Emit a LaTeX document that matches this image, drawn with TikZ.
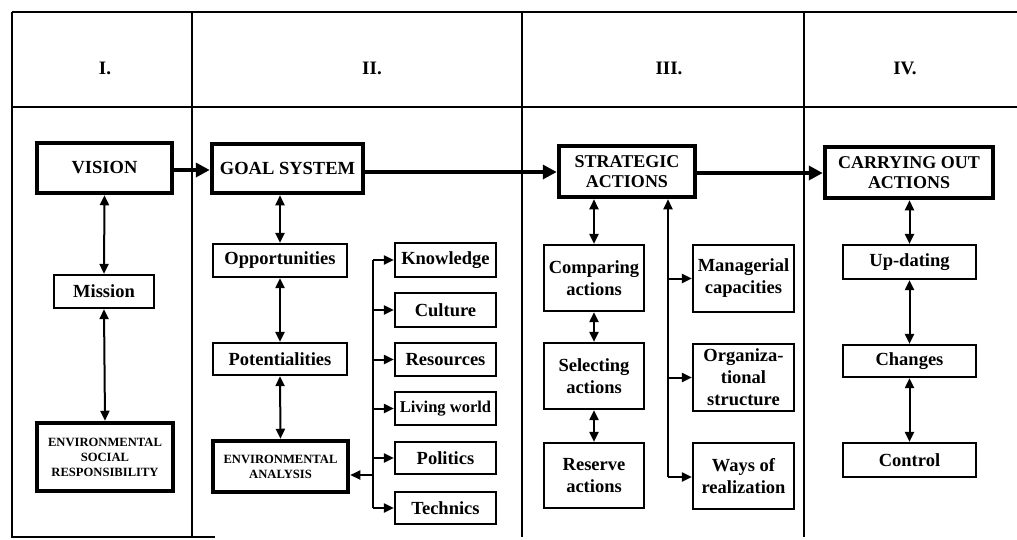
\documentclass[tikz,border=0pt]{standalone}
\usepackage{fontspec}
\setmainfont{Liberation Serif}
\usetikzlibrary{arrows.meta}
\begin{document}
\begin{tikzpicture}[x=1pt,y=-1pt,
  frame/.style={line width=2.4pt},
  box/.style={draw,line width=2.2pt,inner sep=0pt,align=center,
    font=\fontsize{18.5}{22}\selectfont\bfseries},
  bigbox/.style={box,line width=4.5pt},
  small/.style={font=\fontsize{12.6}{15}\selectfont\bfseries},
  head/.style={font=\fontsize{19}{22}\selectfont\bfseries},
  link/.style={line width=2pt,-{Triangle[length=10pt,width=9pt]}},
  dlink/.style={line width=2pt,{Triangle[length=10pt,width=9pt]}-{Triangle[length=10pt,width=9pt]}},
  flow/.style={line width=4.5pt,-{Triangle[length=14pt,width=14pt]}}]
\useasboundingbox (0,0) rectangle (1017,539);

% table frame
\draw[frame] (12,12) -- (1017,12);
\draw[frame] (12,107) -- (1017,107);
\draw[frame] (12,12) -- (12,537) -- (215,537);
\draw[frame] (192,12) -- (192,537);
\draw[frame] (522,12) -- (522,537);
\draw[frame] (804,12) -- (804,537);

% column headings
\node[head] (h1) at (105,68) {I.};
\node[head] (h2) at (372,68) {II.};
\node[head] (h3) at (669,68) {III.};
\node[head] (h4) at (905,68) {IV.};

% column I
\node[bigbox,minimum width=135pt,minimum height=50pt] (vision) at (104.5,168) {VISION};
\node[box,minimum width=100pt,minimum height=33pt] (mission) at (104,291.5) {Mission};
\node[bigbox,small,minimum width=136pt,minimum height=68pt] (esr) at (105,457)
  {ENVIRONMENTAL\\SOCIAL\\RESPONSIBILITY};

% column II
\node[bigbox,minimum width=151pt,minimum height=49pt] (goal) at (287.5,168.5) {GOAL SYSTEM};
\node[box,minimum width=134pt,minimum height=33pt] (opp) at (280,260.5) {Opportunities};
\node[box,minimum width=134pt,minimum height=32pt] (pot) at (280,359) {Potentialities};
\node[bigbox,small,minimum width=135pt,minimum height=51pt] (enva) at (280.5,466.5)
  {ENVIRONMENTAL\\ANALYSIS};
\node[box,minimum width=101pt,minimum height=34pt] (know) at (445.5,260) {Knowledge};
\node[box,minimum width=101pt,minimum height=34pt] (cult) at (445.5,310) {Culture};
\node[box,minimum width=101pt,minimum height=33pt] (res) at (445.5,359.5) {Resources};
\node[box,minimum width=101pt,minimum height=33pt,font=\fontsize{16.5}{20}\selectfont\bfseries] (live) at (445.5,408.5) {Living world};
\node[box,minimum width=101pt,minimum height=32pt] (pol) at (445.5,458) {Politics};
\node[box,minimum width=101pt,minimum height=32pt] (tech) at (445.5,508) {Technics};

% column III
\node[bigbox,minimum width=136pt,minimum height=51pt,font=\fontsize{18}{20}\selectfont\bfseries] (strat) at (627,171.5) {STRATEGIC\\ACTIONS};
\node[box,minimum width=100pt,minimum height=66pt] (comp) at (594,278) {Comparing\\actions};
\node[box,minimum width=100pt,minimum height=66pt] (sel) at (594,376) {Selecting\\actions};
\node[box,minimum width=100pt,minimum height=65pt] (resv) at (594,475.5) {Reserve\\actions};
\node[box,minimum width=101pt,minimum height=67pt] (man) at (743.5,278.5) {Managerial\\capacities};
\node[box,minimum width=101pt,minimum height=67pt] (org) at (743.5,377.5) {Organiza-\\tional\\structure};
\node[box,minimum width=101pt,minimum height=66pt] (ways) at (743.5,476) {Ways of\\realization};

% column IV
\node[bigbox,minimum width=168pt,minimum height=51pt,font=\fontsize{18}{20}\selectfont\bfseries] (carry) at (909,172.5) {CARRYING OUT\\ACTIONS};
\node[box,minimum width=133pt,minimum height=34pt] (upd) at (909.5,262) {Up-dating};
\node[box,minimum width=133pt,minimum height=32pt] (chg) at (909.5,361) {Changes};
\node[box,minimum width=133pt,minimum height=34pt] (ctrl) at (909.5,460) {Control};

% main flow
\draw[flow] (vision.east |- 0,170) -- (goal.west |- 0,170);
\draw[flow] (goal.east |- 0,172) -- (strat.west |- 0,172);
\draw[flow] (strat.east |- 0,173) -- (carry.west |- 0,173);

% column I links
\draw[dlink] (vision.south) -- (mission.north);
\draw[dlink] (mission.south) -- (esr.north);

% column II links
\draw[dlink] (goal.south -| opp.north) -- (opp.north);
\draw[dlink] (opp.south) -- (pot.north);
\draw[dlink] (pot.south) -- (enva.north);
\coordinate (busTop) at (373,260);
\coordinate (busBot) at (373,508);
\coordinate (busEnv) at (373,475);
\draw[line width=2pt] (busTop) -- (busBot);
\foreach \n in {know,cult,res,live,pol,tech}
  \draw[link] (busTop |- \n.west) -- (\n.west);
\draw[link] (busEnv) -- (enva.east |- busEnv);

% column III links
\draw[dlink] (strat.south -| comp.north) -- (comp.north);
\draw[dlink] (comp.south) -- (sel.north);
\draw[dlink] (sel.south) -- (resv.north);
\coordinate (busS) at (668,477);
\draw[link] (busS) -- (strat.south -| busS);
\draw[link] (busS |- man.west) -- (man.west);
\draw[link] (busS |- org.west) -- (org.west);
\draw[link] (busS) -- (ways.west |- busS);

% column IV links
\draw[dlink] (carry.south -| upd.north) -- (upd.north);
\draw[dlink] (upd.south) -- (chg.north);
\draw[dlink] (chg.south) -- (ctrl.north);
\end{tikzpicture}
\end{document}
